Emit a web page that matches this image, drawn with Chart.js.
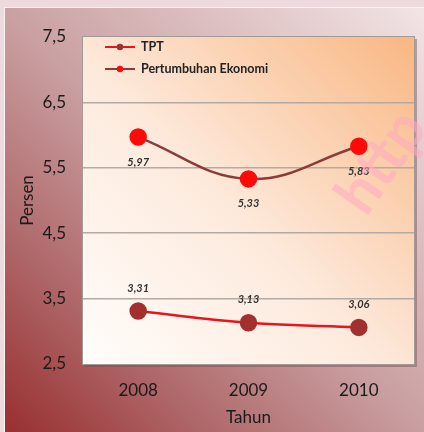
<!DOCTYPE html>
<html>
<head>
<meta charset="utf-8">
<script src="https://cdn.jsdelivr.net/npm/chart.js@4.4.1/dist/chart.umd.min.js"></script>
<style>
  html, body { margin: 0; padding: 0; background: #eedadd; }
  #wrap { width: 424px; height: 432px; position: relative; }
  canvas { display: block; }
</style>
</head>
<body>
<div id="wrap"><canvas id="c" width="424" height="432"></canvas></div>
<script>
// ---- data ----
const years = ['2008', '2009', '2010'];
const tptValues = [3.31, 3.13, 3.06];
const pertumbuhanValues = [5.97, 5.33, 5.83];
const seriesNames = ['TPT', 'Pertumbuhan Ekonomi'];
const yTickValues = [2.5, 3.5, 4.5, 5.5, 6.5, 7.5];
const yTickLabels = ['2,5', '3,5', '4,5', '5,5', '6,5', '7,5'];
const yAxisTitle = 'Persen';
const xAxisTitle = 'Tahun';
const watermarkText = 'http';

const FONT = 'Lato, "Open Sans", sans-serif';

const backgroundPlugin = {
  id: 'bg',
  beforeDraw(chart) {
    const ctx = chart.ctx;
    const W = chart.width, H = chart.height;
    ctx.save();
    ctx.fillStyle = '#eedadd';
    ctx.fillRect(0, 0, W, H);
    ctx.strokeStyle = '#fbf3f4';
    ctx.lineWidth = 1;
    ctx.strokeRect(4.5, 7.5, W, H);
    const g = ctx.createLinearGradient(5, H, W, 8);
    g.addColorStop(0, '#982f30');
    g.addColorStop(0.25, '#b06a6c');
    g.addColorStop(0.5, '#caa0a2');
    g.addColorStop(1, '#f2e4e5');
    ctx.fillStyle = g;
    ctx.fillRect(5, 8, W - 5, H - 8);

    const a = chart.chartArea;
    ctx.fillStyle = 'rgba(110,80,80,0.45)';
    ctx.fillRect(a.left + 2, a.top + 2, a.right - a.left + 1, a.bottom - a.top + 1);
    const pg = ctx.createLinearGradient(a.left, a.bottom, a.right, a.top);
    pg.addColorStop(0, '#fffdfb');
    pg.addColorStop(0.45, '#fdeadd');
    pg.addColorStop(1, '#f9b783');
    ctx.fillStyle = pg;
    ctx.fillRect(a.left, a.top, a.right - a.left, a.bottom - a.top);
    ctx.strokeStyle = '#a39a98';
    ctx.lineWidth = 1;
    ctx.strokeRect(a.left - 0.5, a.top - 0.5, a.right - a.left + 1, a.bottom - a.top + 1);
    ctx.restore();
  }
};

const dataLabelPlugin = {
  id: 'dlabels',
  afterDatasetsDraw(chart) {
    const ctx = chart.ctx;
    ctx.save();
    ctx.font = 'italic bold 11px ' + FONT;
    ctx.fillStyle = '#333333';
    ctx.textAlign = 'center';
    ctx.textBaseline = 'middle';
    chart.data.datasets.forEach((ds, di) => {
      const meta = chart.getDatasetMeta(di);
      const off = di === 0 ? -23 : 25;
      meta.data.forEach((pt, i) => {
        const txt = ds.data[i].toFixed(2).replace('.', ',');
        ctx.fillText(txt, pt.x, pt.y + off);
      });
    });
    ctx.restore();
  },
  afterDraw(chart) {
    const ctx = chart.ctx;
    const a = chart.chartArea;
    ctx.save();
    ctx.font = 'bold 12.5px ' + FONT;
    ctx.textBaseline = 'middle';
    ctx.textAlign = 'left';
    chart.data.datasets.forEach((ds, di) => {
      const y = a.top + 10 + di * 22;
      const x0 = a.left + 22;
      ctx.strokeStyle = ds.borderColor;
      ctx.lineWidth = 2;
      ctx.beginPath();
      ctx.moveTo(x0, y);
      ctx.lineTo(x0 + 30, y);
      ctx.stroke();
      ctx.fillStyle = ds.pointBackgroundColor;
      ctx.beginPath();
      ctx.arc(x0 + 15, y, 3.2, 0, Math.PI * 2);
      ctx.fill();
      ctx.fillStyle = '#222222';
      ctx.fillText(ds.label, x0 + 36, y);
    });
    // watermark
    ctx.translate(366, 218);
    ctx.rotate(-55 * Math.PI / 180);
    ctx.font = 'bold 60px ' + FONT;
    ctx.fillStyle = 'rgba(255,170,195,0.55)';
    ctx.textAlign = 'left';
    ctx.textBaseline = 'alphabetic';
    ctx.fillText(watermarkText, 0, 0);
    ctx.restore();
  }
};

new Chart(document.getElementById('c'), {
  type: 'line',
  data: {
    labels: years,
    datasets: [
      {
        label: seriesNames[0],
        data: tptValues,
        borderColor: '#e8141e',
        borderWidth: 2.5,
        pointBackgroundColor: '#a3302e',
        pointBorderColor: '#a3302e',
        pointRadius: 7.5,
        tension: 0.4,
        fill: false
      },
      {
        label: seriesNames[1],
        data: pertumbuhanValues,
        borderColor: '#8c3a3a',
        borderWidth: 2.5,
        pointBackgroundColor: '#ff0a0a',
        pointBorderColor: '#ff0a0a',
        pointRadius: 7.5,
        tension: 0.4,
        fill: false
      }
    ]
  },
  options: {
    responsive: false,
    animation: false,
    events: [],
    layout: { padding: { left: 0, top: 37, right: 10, bottom: 0 } },
    plugins: {
      legend: { display: false },
      tooltip: { enabled: false }
    },
    scales: {
      x: {
        type: 'category',
        offset: true,
        grid: { display: false },
        border: { display: false },
        ticks: {
          color: '#1a1a1a',
          font: { family: FONT, size: 17 },
          padding: 8
        },
        title: {
          display: true,
          text: xAxisTitle,
          color: '#1a1a1a',
          font: { family: FONT, size: 17 },
          padding: { top: 0, bottom: 4 }
        },
        afterFit(scale) { scale.height = 68; }
      },
      y: {
        min: 2.5,
        max: 7.5,
        afterBuildTicks(scale) {
          scale.ticks = yTickValues.map(v => ({ value: v }));
        },
        grid: {
          drawTicks: false,
          lineWidth: 1.5,
          color(ctx) {
            const v = ctx.tick && ctx.tick.value;
            return (v === 2.5 || v === 7.5) ? 'rgba(0,0,0,0)' : '#b3aaa4';
          }
        },
        border: { display: false },
        ticks: {
          color: '#1a1a1a',
          font: { family: FONT, size: 17 },
          padding: 17,
          callback(value, index) { return yTickLabels[index]; }
        },
        title: {
          display: true,
          text: yAxisTitle,
          color: '#1a1a1a',
          font: { family: FONT, size: 17 },
          padding: { top: 17, bottom: 0 }
        },
        afterFit(scale) { scale.width = 83; }
      }
    }
  },
  plugins: [backgroundPlugin, dataLabelPlugin]
});
</script>
</body>
</html>
